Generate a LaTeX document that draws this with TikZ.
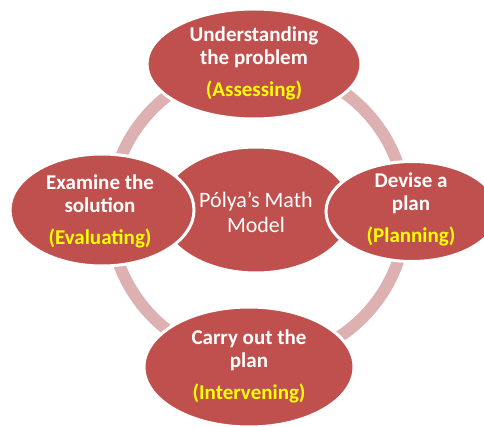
\documentclass[tikz,border=0pt]{standalone}
\usepackage{fontspec}
\setmainfont{Carlito}
\usetikzlibrary{shapes.geometric}
\definecolor{ellred}{HTML}{C0504D}
\definecolor{ringpink}{HTML}{DDB1B2}
\definecolor{yel}{HTML}{FFFF00}
\tikzset{
  stage/.style={ellipse, fill=ellred, draw=white, line width=3pt, inner sep=0pt},
  stagetext/.style={text=white, font=\bfseries\fontsize{21}{23.5}\selectfont, align=center, inner sep=0pt},
  centertext/.style={text=white, font=\fontsize{22}{25}\selectfont, align=center, inner sep=0pt},
  ring/.style={draw=ringpink, line width=12pt}
}
\newcommand{\yl}[1]{\\[8pt]{\color{yel}#1}}
\begin{document}
\begin{tikzpicture}[x=1pt,y=-1pt]
\useasboundingbox (0,0) rectangle (484,427);
\clip (0,0) rectangle (484,427);
% ring
\draw[ring] (258,213) circle (148);
% center ellipse
\node[stage, minimum width=192pt, minimum height=126pt] (c) at (256,210) {};
% outer ellipses
\node[stage, minimum width=214pt, minimum height=110pt] (t) at (254,64) {};
\node[stage, minimum width=184pt, minimum height=112pt] (l) at (102,210) {};
\node[stage, minimum width=172pt, minimum height=100pt] (r) at (412,211.5) {};
\node[stage, minimum width=210pt, minimum height=120pt] (b) at (249,367) {};
% texts
\node[centertext] (ct) at (256,212) {Pólya’s Math\\Model};
\node[stagetext] (tt) at (254,63) {Understanding\\the problem\yl{(Assessing)}};
\node[stagetext] (lt) at (100,211) {Examine the\\solution\yl{(Evaluating)}};
\node[stagetext] (rt) at (411,209) {Devise a\\plan\yl{(Planning)}};
\node[stagetext] (bt) at (249,366) {Carry out the\\plan\yl{(Intervening)}};
\end{tikzpicture}
\end{document}
